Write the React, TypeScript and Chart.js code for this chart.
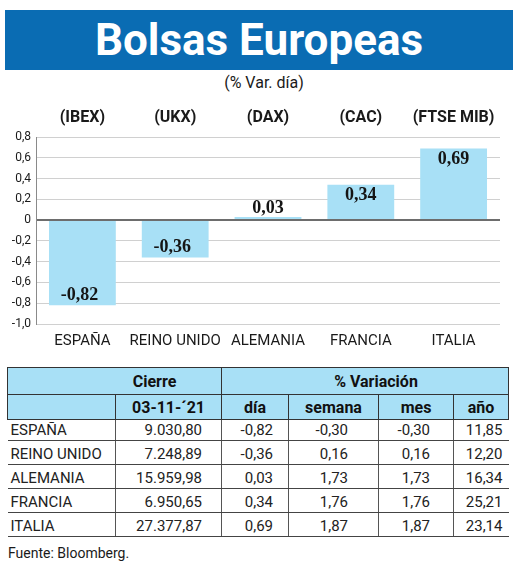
import React, { useEffect, useRef } from "react";
import { Chart, registerables } from "chart.js";

Chart.register(...registerables);

// ---- data ----
const countries = ["ESPAÑA", "REINO UNIDO", "ALEMANIA", "FRANCIA", "ITALIA"];
const indexNames = ["(IBEX)", "(UKX)", "(DAX)", "(CAC)", "(FTSE MIB)"];
const dayChange = [-0.82, -0.36, 0.03, 0.34, 0.69];
const closeValues = [9030.8, 7248.89, 15959.98, 6950.65, 27377.87];
const weekChange = [-0.3, 0.16, 1.73, 1.76, 1.87];
const monthChange = [-0.3, 0.16, 1.73, 1.76, 1.87];
const yearChange = [11.85, 12.2, 16.34, 25.21, 23.14];
const yMin = -1.0;
const yMax = 0.8;
const yStep = 0.2;
const closeDate = "03-11-´21";
const title = "Bolsas Europeas";
const subtitle = "(% Var. día)";
const source = "Fuente: Bloomberg.";

const FONT = "'Roboto', 'Liberation Sans', sans-serif";
const SERIF = "'Liberation Serif', 'Times New Roman', serif";
const BLUE = "#0a6cb3";
const LIGHT = "#a8e0f6";

function fmt(v: number, d = 2) {
  const neg = v < 0;
  const [i, f] = Math.abs(v).toFixed(d).split(".");
  const int = i.replace(/\B(?=(\d{3})+(?!\d))/g, ".");
  return (neg ? "-" : "") + int + (f ? "," + f : "");
}

const valueLabels = {
  id: "valueLabels",
  afterDatasetsDraw(chart: any) {
    const ctx = chart.ctx;
    const meta = chart.getDatasetMeta(0);
    ctx.save();
    ctx.font = `bold 18px ${SERIF}`;
    ctx.fillStyle = "#151515";
    ctx.textAlign = "center";
    ctx.textBaseline = "middle";
    meta.data.forEach((bar: any, i: number) => {
      const v = dayChange[i];
      const h = Math.abs(bar.base - bar.y);
      let y: number;
      if (h < 25) y = bar.y - 9;
      else if (v >= 0) y = bar.y + 11;
      else y = bar.y - 10;
      ctx.fillText(fmt(v), bar.x - (v < 0 ? 3 : 0), y);
    });
    ctx.restore();
  },
};

function BarChart() {
  const ref = useRef<HTMLCanvasElement | null>(null);
  useEffect(() => {
    if (!ref.current) return;
    const isZero = (c: any) => c.tick && Math.abs(c.tick.value) < 1e-9;
    const chart = new Chart(ref.current, {
      type: "bar",
      data: {
        labels: countries,
        datasets: [
          {
            data: dayChange,
            backgroundColor: LIGHT,
            barPercentage: 0.72,
            categoryPercentage: 1,
          },
        ],
      },
      options: {
        animation: false,
        responsive: false,
        maintainAspectRatio: false,
        layout: { padding: { left: 0, right: 20, top: 0, bottom: 0 } },
        plugins: { legend: { display: false }, tooltip: { enabled: false } },
        scales: {
          x: {
            position: "bottom",
            grid: { display: false, drawTicks: false },
            border: { display: false },
            ticks: {
              color: "#1a1a1a",
              font: { family: FONT, size: 15 },
              padding: 8,
              maxRotation: 0,
              autoSkip: false,
            },
            afterFit: (s: any) => {
              s.height = 38;
            },
          },
          x2: {
            type: "category",
            labels: indexNames,
            position: "top",
            offset: true,
            grid: { display: false, drawTicks: false },
            border: { display: false },
            ticks: {
              color: "#1a1a1a",
              font: { family: FONT, size: 16, weight: "bold" },
              padding: 9,
              maxRotation: 0,
              autoSkip: false,
            },
            afterFit: (s: any) => {
              s.height = 37;
            },
          },
          y: {
            min: yMin,
            max: yMax,
            ticks: {
              stepSize: yStep,
              color: "#1a1a1a",
              font: { family: FONT, size: 12 },
              padding: 5,
              callback: (v: any) =>
                Math.abs(Number(v)) < 1e-9 ? "0" : Number(v).toFixed(1).replace(".", ","),
            },
            grid: {
              drawTicks: false,
              color: (c: any) => (isZero(c) ? "#6d6d6d" : "#d0d0d0"),
              lineWidth: (c: any) => (isZero(c) ? 2 : 1),
            },
            border: { color: "#8a8a8a", width: 1 },
            afterFit: (s: any) => {
              s.width = 36;
            },
          },
        },
      } as any,
      plugins: [valueLabels],
    });
    return () => chart.destroy();
  }, []);
  return (
    <canvas
      ref={ref}
      width={520}
      height={262}
      style={{ position: "absolute", left: 0, top: 100, width: 520, height: 262 }}
    />
  );
}

const colWidths = [108, 106, 67, 90, 75, 55];
const padRight = [0, 19, 15, 30, 23, 6];

function DataTable() {
  const border = "1px solid #333";
  const head: React.CSSProperties = {
    background: LIGHT,
    fontWeight: "bold",
    fontSize: 16,
    textAlign: "center",
    color: "#111",
    padding: 0,
  };
  const rows = countries.map((c, i) => [
    c,
    fmt(closeValues[i]),
    fmt(dayChange[i]),
    fmt(weekChange[i]),
    fmt(monthChange[i]),
    fmt(yearChange[i]),
  ]);
  return (
    <table
      style={{
        position: "absolute",
        left: 7,
        top: 367,
        width: 501,
        borderCollapse: "collapse",
        tableLayout: "fixed",
        fontFamily: FONT,
        color: "#222",
      }}
    >
      <colgroup>
        {colWidths.map((w, i) => (
          <col key={i} style={{ width: w }} />
        ))}
      </colgroup>
      <tbody>
        <tr style={{ height: 27 }}>
          <td colSpan={2} style={{ ...head, border, paddingLeft: 80 }}>
            Cierre
          </td>
          <td colSpan={4} style={{ ...head, border, paddingLeft: 22 }}>
            % Variación
          </td>
        </tr>
        <tr style={{ height: 25 }}>
          <td style={{ ...head, border }}></td>
          <td style={{ ...head, border }}>{closeDate}</td>
          <td style={{ ...head, border }}>día</td>
          <td style={{ ...head, border }}>semana</td>
          <td style={{ ...head, border }}>mes</td>
          <td style={{ ...head, border }}>año</td>
        </tr>
        {rows.map((r, ri) => (
          <tr key={ri} style={{ height: ri === 0 ? 21 : 24 }}>
            {r.map((cell, ci) => (
              <td
                key={ci}
                style={{
                  fontSize: 15,
                  padding: 0,
                  paddingLeft: ci === 0 ? 3 : 0,
                  paddingRight: padRight[ci],
                  textAlign: ci === 0 ? "left" : "right",
                  borderBottom: "1.5px solid #444",
                  borderLeft: ci === 0 ? "none" : "1px solid #555",
                  lineHeight: "19px",
                  verticalAlign: "bottom",
                  whiteSpace: "nowrap",
                }}
              >
                {cell}
              </td>
            ))}
          </tr>
        ))}
      </tbody>
    </table>
  );
}

export default function App() {
  return (
    <div
      style={{
        position: "absolute",
        left: 0,
        top: 0,
        width: 520,
        height: 562,
        background: "#fff",
        fontFamily: FONT,
        overflow: "hidden",
      }}
    >
      <div
        style={{
          position: "absolute",
          left: 5,
          top: 10,
          width: 508,
          height: 60,
          background: BLUE,
          color: "#fff",
          fontWeight: "bold",
          fontSize: 44,
          lineHeight: "60px",
          textAlign: "center",
        }}
      >
        {title}
      </div>
      <div
        style={{
          position: "absolute",
          left: 0,
          top: 73,
          width: 528,
          textAlign: "center",
          fontSize: 16,
          lineHeight: "20px",
          color: "#1a1a1a",
        }}
      >
        {subtitle}
      </div>
      <BarChart />
      <DataTable />
      <div
        style={{
          position: "absolute",
          left: 8,
          top: 545,
          fontSize: 14,
          lineHeight: "17px",
          color: "#1a1a1a",
        }}
      >
        {source}
      </div>
    </div>
  );
}
